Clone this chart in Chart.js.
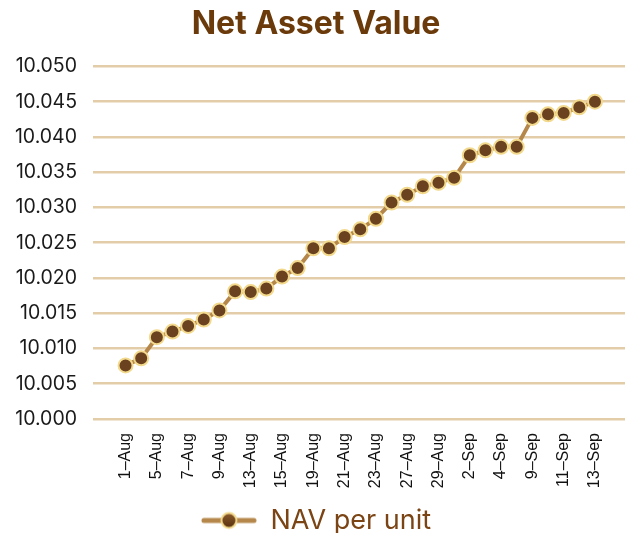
<!DOCTYPE html>
<html>
<head>
<meta charset="utf-8">
<script src="https://cdn.jsdelivr.net/npm/chart.js@4/dist/chart.umd.min.js"></script>
<style>
html,body{margin:0;padding:0;background:#fff;}
#wrap{width:634px;height:533px;}
</style>
</head>
<body>
<div id="wrap"><canvas id="c" width="634" height="533"></canvas></div>
<script>
const dates = ['1–Aug','2–Aug','5–Aug','6–Aug','7–Aug','8–Aug','9–Aug','12–Aug','13–Aug','14–Aug','15–Aug','16–Aug','19–Aug','20–Aug','21–Aug','22–Aug','23–Aug','26–Aug','27–Aug','28–Aug','29–Aug','30–Aug','2–Sep','3–Sep','4–Sep','5–Sep','9–Sep','10–Sep','11–Sep','12–Sep','13–Sep'];
const navPerUnit = [10.0076, 10.0086, 10.0116, 10.0124, 10.0132, 10.0141, 10.0154, 10.0181, 10.0180, 10.0185, 10.0202, 10.0214, 10.0242, 10.0242, 10.0258, 10.0269, 10.0284, 10.0307, 10.0318, 10.0330, 10.0335, 10.0342, 10.0374, 10.0381, 10.0386, 10.0386, 10.0427, 10.0432, 10.0434, 10.0442, 10.0450];
const seriesName = 'NAV per unit';
const titleText = 'Net Asset Value';
const yMin = 10.000, yMax = 10.050, yStep = 0.005;

const lineColor = '#B5874A';
const pointFill = '#6B4220';
const pointBorder = '#F2D98C';
const brown = '#6B3A0B';

// legend marker: line with a point
const mk = document.createElement('canvas');
mk.width = 56; mk.height = 20;
(function(){
  const g = mk.getContext('2d');
  g.strokeStyle = lineColor; g.lineWidth = 5; g.lineCap = 'round';
  g.beginPath(); g.moveTo(3,10); g.lineTo(53,10); g.stroke();
  g.beginPath(); g.arc(28,10,7.5,0,Math.PI*2);
  const gr = g.createLinearGradient(0,3,0,17);
  gr.addColorStop(0,'#8B5A2B'); gr.addColorStop(1,'#5A3210');
  g.fillStyle = gr; g.fill();
  g.lineWidth = 2; g.strokeStyle = pointBorder; g.stroke();
})();

const pts = navPerUnit.map((v,i)=>({x:i,y:v}));

new Chart(document.getElementById('c'), {
  type: 'line',
  data: {
    datasets: [{
      label: seriesName,
      data: pts,
      borderColor: lineColor,
      borderWidth: 4,
      backgroundColor: pointFill,
      pointBackgroundColor: pointFill,
      pointBorderColor: pointBorder,
      pointBorderWidth: 2,
      pointRadius: 7,
      tension: 0
    }]
  },
  options: {
    responsive: false,
    animation: false,
    layout: { padding: { left: 0, right: 2, top: 0, bottom: -11 } },
    plugins: {
      title: {
        display: true,
        text: titleText,
        color: brown,
        font: { family: 'Inter', size: 32, weight: 'bold' },
        padding: { top: 5, bottom: 23 }
      },
      legend: {
        position: 'bottom',
        labels: {
          usePointStyle: true,
          pointStyleWidth: 56,
          color: '#7A4414',
          font: { family: 'Inter', size: 27, weight: 'normal' },
          padding: 0,
          generateLabels: (chart) => [{
            text: seriesName,
            pointStyle: mk,
            fillStyle: pointFill,
            strokeStyle: lineColor,
            lineWidth: 0,
            fontColor: '#7A4414',
            datasetIndex: 0
          }]
        }
      },
      tooltip: { enabled: false }
    },
    scales: {
      x: {
        type: 'linear',
        min: -2.08,
        max: 31.92,
        grid: { display: false },
        border: { display: false },
        afterBuildTicks: (axis) => {
          axis.ticks = dates.map((d,i)=>i).filter(i=>i%2===0).map(v=>({value:v}));
        },
        afterFit: (s) => { s.height = 88; },
        ticks: {
          autoSkip: false,
          maxRotation: 90,
          minRotation: 90,
          padding: 6,
          color: '#111',
          font: { family: 'Liberation Sans', size: 16 },
          callback: (v) => dates[v] !== undefined ? dates[v] : ''
        }
      },
      y: {
        min: yMin,
        max: yMax,
        grid: { color: '#E3CDA8', lineWidth: 2.5, drawTicks: false },
        border: { display: false },
        afterFit: (s) => { s.width = 93; },
        ticks: {
          stepSize: yStep,
          padding: 16,
          color: '#1a1a1a',
          font: { family: 'Inter', size: 19.5 },
          callback: (v) => Number(v).toFixed(3)
        }
      }
    }
  }
});
</script>
</body>
</html>
